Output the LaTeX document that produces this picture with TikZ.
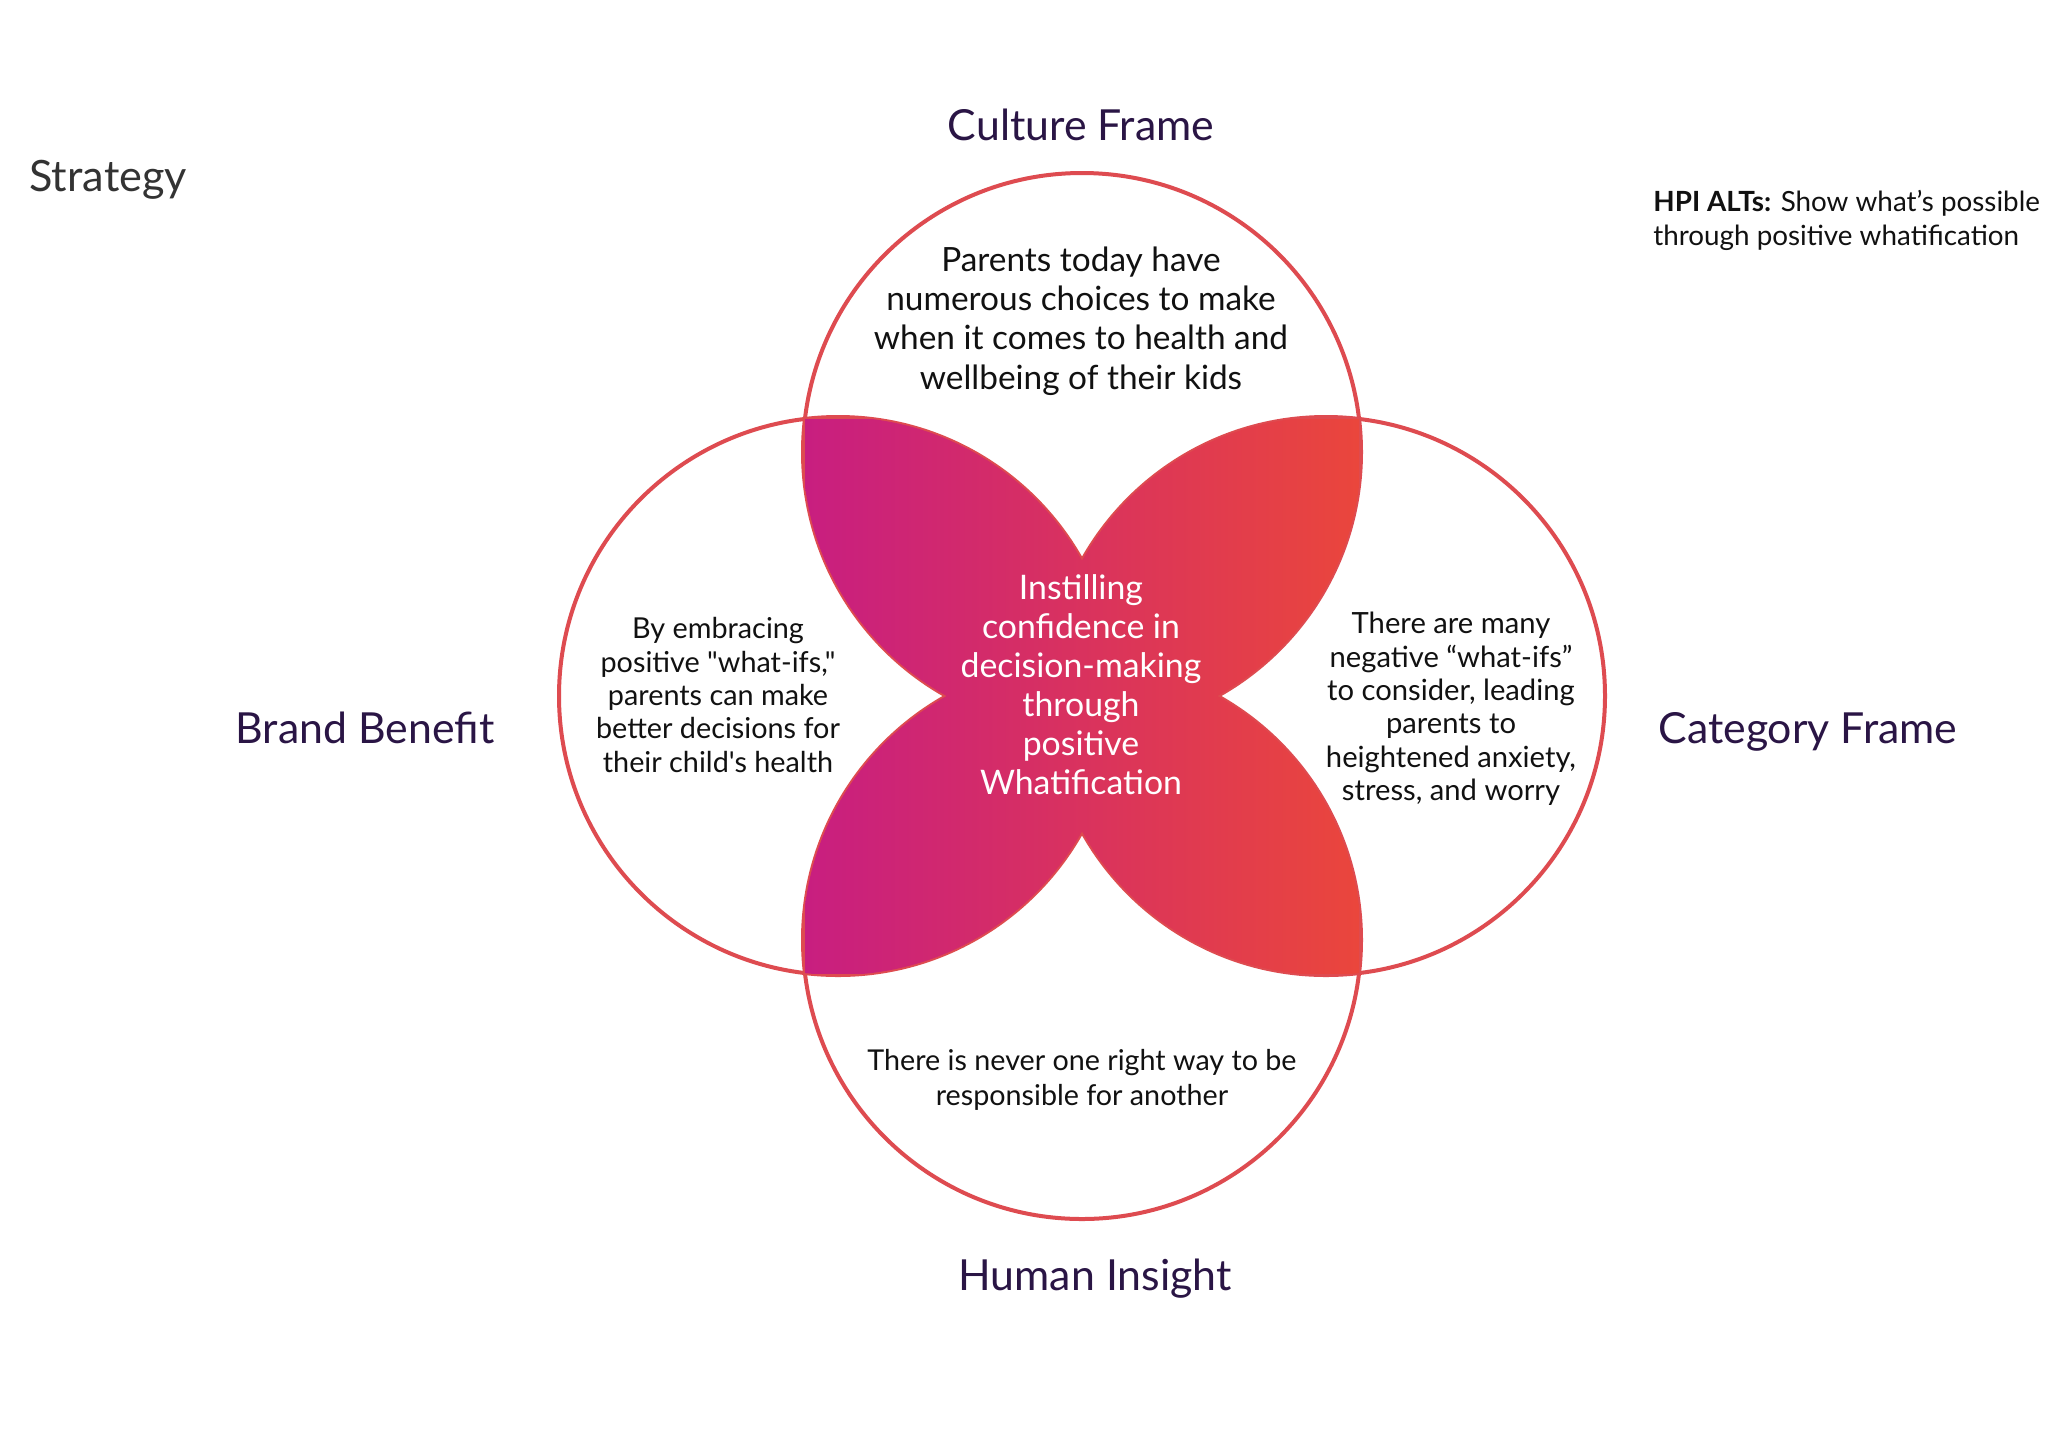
\documentclass[tikz,border=0pt]{standalone}
\usepackage{fontspec}
\newfontfamily\av{Lato}
\definecolor{ringred}{HTML}{DE4B50}
\definecolor{labpurple}{HTML}{2A1545}
\definecolor{gradL}{HTML}{C81E80}
\definecolor{gradR}{HTML}{EA463C}
\definecolor{bodyblack}{HTML}{111111}
\tikzset{
  ring/.style={draw=ringred, line width=2pt},
  framelabel/.style={font=\av\fontsize{21.4}{24}\selectfont, text=labpurple, anchor=base, inner sep=0pt},
  bodytext/.style={font=\av\fontsize{14.4}{16.7}\selectfont, text=bodyblack, align=center, inner sep=0pt},
  centertext/.style={font=\av\fontsize{16.9}{19.5}\selectfont, text=white, align=center, inner sep=0pt},
}
\begin{document}
\begin{tikzpicture}[x=0.5pt,y=-0.5pt]
\useasboundingbox (0,0) rectangle (2068,1453);
\fill[white] (0,0) rectangle (2068,1453);
% circle centres
\coordinate (T) at (1082,452);
\coordinate (B) at (1082,940);
\coordinate (L) at (838,696);
\coordinate (R) at (1326,696);
\def\rr{139.5pt}
\draw[ring] (T) circle[radius=\rr];
\draw[ring] (B) circle[radius=\rr];
\draw[ring] (L) circle[radius=\rr];
\draw[ring] (R) circle[radius=\rr];
% petals: intersections of adjacent circles
\foreach \a/\b in {T/L,T/R,B/L,B/R}{
  \begin{scope}
    \clip (\a) circle[radius=\rr];
    \clip (\b) circle[radius=\rr];
    \shade[left color=gradL, right color=gradR] (805,419) rectangle (1359,973);
  \end{scope}
}
% labels
\node[framelabel] (culture) at (1081,140) {Culture Frame};
\node[framelabel] (brand) at (365,743) {Brand Benefit};
\node[framelabel] (category) at (1808,743) {Category Frame};
\node[framelabel] (human) at (1095,1290) {Human Insight};
\node[font=\av\fontsize{21.6}{24}\selectfont, text=black!80, anchor=base west, inner sep=0pt] (strategy) at (29,191) {Strategy};
\node[font=\av\fontsize{13.9}{17}\selectfont, text=bodyblack, anchor=base west, align=left, inner sep=0pt] (hpi) at (1653,245) {{\bfseries HPI ALTs:} Show what’s possible\\through positive whatification};
% texts in circles
\node[bodytext, font=\av\fontsize{16.7}{19.6}\selectfont] (toptext) at (1081,321) {Parents today have\\numerous choices to make\\when it comes to health and\\wellbeing of their kids};
\node[bodytext] (lefttext) at (718,695) {By embracing\\positive "what-ifs,"\\parents can make\\better decisions for\\their child's health};
\node[bodytext, font=\av\fontsize{14.6}{16.7}\selectfont] (righttext) at (1451,709) {There are many\\negative “what-ifs”\\to consider, leading\\parents to\\heightened anxiety,\\stress, and worry};
\node[bodytext, font=\av\fontsize{14.35}{17.5}\selectfont] (bottomtext) at (1082,1080) {There is never one right way to be\\responsible for another};
\node[centertext] (centre) at (1081,685) {Instilling\\confidence in\\decision-making\\through\\positive\\Whatification};
\end{tikzpicture}
\end{document}
